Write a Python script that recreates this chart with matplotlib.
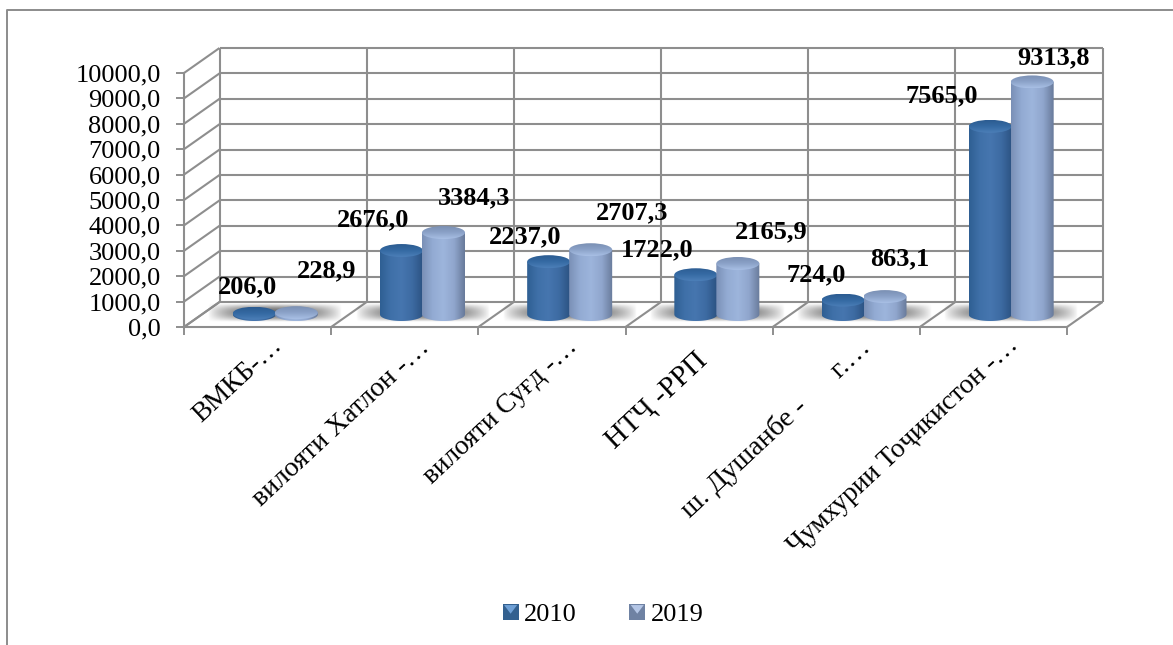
import numpy as np
import matplotlib
matplotlib.use('Agg')
import matplotlib.pyplot as plt
from matplotlib.colors import LinearSegmentedColormap
from matplotlib.legend_handler import HandlerBase
from matplotlib.lines import Line2D
from matplotlib.patches import Ellipse, Patch, Polygon, Rectangle
from matplotlib.transforms import ScaledTranslation

categories = ['ВМКБ-…', 'вилояти Хатлон -…', 'вилояти Суғд -…', 'НТҶ -РРП',
              'ш. Душанбе -      г.…', 'Ҷумхурии Тоҷикистон -…']
values_2010 = [206.0, 2676.0, 2237.0, 1722.0, 724.0, 7565.0]
values_2019 = [228.9, 3384.3, 2707.3, 2165.9, 863.1, 9313.8]
series_names = ['2010', '2019']
y_ticks = [0, 1000, 2000, 3000, 4000, 5000, 6000, 7000, 8000, 9000, 10000]

# label offsets from the top of each bar, pixels
offsets_2010 = [(-7, 22), (-28, 27), (-24, 21), (-39, 21), (-27, 21), (-48, 27)]
offsets_2019 = [(30, 38), (31, 31), (41, 33), (33, 28), (15, 34), (21, 20)]
label_sizes = [19.5, 20, 19.7, 21, 20.3, 19.8]
label_shifts = [(21, 2), (21, 0), (22, 0), (5, -14), (21, 0), (21, 2)]

W, H = 1173, 645
GRID = '#8e8e8e'
plt.rcParams['font.family'] = ['Liberation Serif', 'DejaVu Serif']

fig = plt.figure(figsize=(W / 100, H / 100), dpi=100)
ax = fig.add_axes([184 / W, (H - 327) / H, 883 / W, 254 / H])
ax.set_facecolor('none')

# size of one pixel in data units
px_x = 6 / 883
px_y = 10000 / 254
depth_x = 35.5 * px_x
depth_y = 25 * px_y


def wire(xs, ys):
    ax.plot(xs, ys, color=GRID, lw=1.5, clip_on=False, zorder=1, solid_capstyle='butt')


# back wall, side wall and floor
for t in y_ticks:
    wire([depth_x, 6 + depth_x], [t + depth_y, t + depth_y])
    wire([0, depth_x], [t, t + depth_y])
for i in range(7):
    wire([i + depth_x, i + depth_x], [depth_y, 10000 + depth_y])
    wire([i, i + depth_x], [0, depth_y])


def cylinder(x, v, rx, ry, body_cmap, cap_cmap, z):
    base = depth_y / 2
    top = base + v - 4 * px_y
    t = np.linspace(np.pi, 2 * np.pi, 40)
    outline = [(x - rx, top)] + list(zip(x + rx * np.cos(t), base + ry * np.sin(t))) + [(x + rx, top)]
    body = Polygon(outline, closed=True, transform=ax.transData, fc='none', ec='none')
    ax.add_patch(body)
    img = ax.imshow(np.linspace(0, 1, 200)[None, :], cmap=body_cmap, aspect='auto',
                    extent=(x - rx, x + rx, base - ry, top), zorder=z)
    img.set_clip_path(body)
    cap = Ellipse((x, top), 2 * rx, 2 * ry, transform=ax.transData, fc='none', ec='none')
    ax.add_patch(cap)
    img2 = ax.imshow(np.linspace(0, 1, 50)[:, None], cmap=cap_cmap, aspect='auto', origin='upper',
                     extent=(x - rx, x + rx, top - ry, top + ry), zorder=z + 0.1)
    img2.set_clip_path(cap)


body_2010 = LinearSegmentedColormap.from_list('b10', ['#2f5f93', '#3f70a8', '#4676af', '#3d6ba2', '#2c5383'])
cap_2010 = LinearSegmentedColormap.from_list('c10', ['#2c5c91', '#356aa3', '#4c7fb8'])
body_2019 = LinearSegmentedColormap.from_list('b19', ['#7a90b6', '#93abd3', '#9db5dc', '#90a6cd', '#687a9a'])
cap_2019 = LinearSegmentedColormap.from_list('c19', ['#7a8fb3', '#8ba2c8', '#a8bfe4'])

rx = 21.5 * px_x
ry = 6.5 * px_y
for i in range(len(categories)):
    cx = i + 0.5 + depth_x / 2

    # soft floor shadow under the pair
    gx, gy = np.meshgrid(np.linspace(-1, 1, 200), np.linspace(-1, 1, 60))
    rgba = np.zeros((60, 200, 4))
    rgba[..., :3] = 0.38
    rgba[..., 3] = 0.95 * np.clip(1 - gx ** 2, 0, 1) ** 0.8 * np.clip(1 - gy ** 2, 0, 1) ** 1.2
    shadow = ax.imshow(rgba, aspect='auto', zorder=2,
                       extent=(cx - 67 * px_x, cx + 67 * px_x, depth_y / 2 - 8 * px_y, depth_y / 2 + 11 * px_y))
    shadow.set_clip_on(False)

    x1 = cx - 21 * px_x
    x2 = cx + 21 * px_x
    cylinder(x1, values_2010[i], rx, ry, body_2010, cap_2010, 3)
    cylinder(x2, values_2019[i], rx, ry, body_2019, cap_2019, 4)

    top1 = depth_y / 2 + values_2010[i]
    top2 = depth_y / 2 + values_2019[i]
    ax.annotate(f'{values_2010[i]:.1f}'.replace('.', ','), (x1, top1), xytext=offsets_2010[i],
                textcoords='offset pixels', ha='center', va='center', fontsize=19,
                fontweight='bold', zorder=10, annotation_clip=False)
    ax.annotate(f'{values_2019[i]:.1f}'.replace('.', ','), (x2, top2), xytext=offsets_2019[i],
                textcoords='offset pixels', ha='center', va='center', fontsize=19,
                fontweight='bold', zorder=10, annotation_clip=False)

ax.set_xlim(0, 6)
ax.set_ylim(0, 10000)

for s in ['top', 'right']:
    ax.spines[s].set_visible(False)
for s in ['left', 'bottom']:
    ax.spines[s].set_color(GRID)
    ax.spines[s].set_linewidth(1.5)

ax.set_yticks(y_ticks)
ax.set_yticklabels([f'{t:.1f}'.replace('.', ',') for t in y_ticks], fontsize=19)
ax.tick_params(axis='y', length=5.8, width=1.4, color=GRID, pad=11)
ax.set_xticks(range(7))
ax.set_xticklabels([])
ax.tick_params(axis='x', which='major', length=5.8, width=1.4, color=GRID)
ax.set_xticks(np.arange(6) + 0.5, minor=True)
ax.set_xticklabels(categories, minor=True, rotation=43, ha='right', va='center',
                   rotation_mode='anchor')
ax.tick_params(axis='x', which='minor', length=0, pad=12)
for lbl, size, sh in zip(ax.get_xticklabels(minor=True), label_sizes, label_shifts):
    lbl.set_fontsize(size)
    lbl.set_transform(lbl.get_transform() + ScaledTranslation(sh[0] / 100, sh[1] / 100, fig.dpi_scale_trans))


class KeyHandler(HandlerBase):
    # square key with a lighter wedge coming down from the top edge
    def create_artists(self, legend, orig, xd, yd, w, h, fontsize, trans):
        x0, y0 = -xd, -yd
        sq = Rectangle((x0, y0), w, h, fc=orig.get_facecolor(), ec='none', transform=trans)
        wedge = Polygon([(x0 + 1, y0 + h - 1), (x0 + w - 1, y0 + h - 1), (x0 + w / 2, y0 + h * 0.4)],
                        closed=True, fc=orig.get_edgecolor(), ec='none', transform=trans)
        return [sq, wedge]


handles = [Patch(fc='#33608f', ec='#6fa0d6', label=series_names[0]),
           Patch(fc='#6f82a3', ec='#b4c6e6', label=series_names[1])]
fig.legend(handles=handles, ncol=2, frameon=False, fontsize=19, loc='center',
           bbox_to_anchor=(603 / W, (H - 615) / H), handlelength=0.6, handleheight=0.6,
           handletextpad=0.2, columnspacing=2.0,
           handler_map={Patch: KeyHandler()})

# outer chart frame: only top and left show in the crop
fig.add_artist(Line2D([7 / W, 7 / W, 1], [0, (H - 10) / H, (H - 10) / H], color='#8c8c8c', lw=1.4))

fig.savefig('out.png', dpi=100)
